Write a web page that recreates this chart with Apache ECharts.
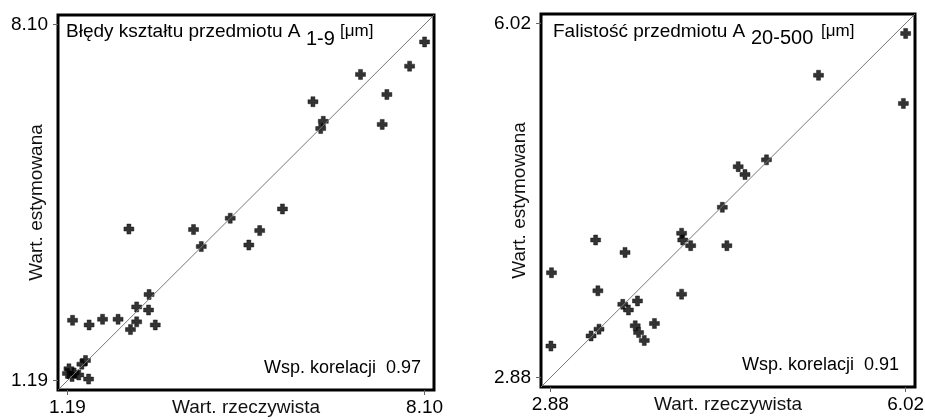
<!DOCTYPE html>
<html>
<head>
<meta charset="utf-8">
<script src="https://cdn.jsdelivr.net/npm/echarts@6/dist/echarts.min.js"></script>
<style>
  html, body { margin: 0; padding: 0; background: #fff; }
  #chart { width: 925px; height: 420px; }
</style>
</head>
<body>
<div id="chart"></div>
<script>
// Błędy kształtu A 1-9 (lewy wykres)
const shapeActual = [8.10, 7.81, 6.86, 7.37, 5.94, 6.14, 6.09, 7.28, 5.35, 4.34, 3.63, 3.78, 4.91, 4.70, 2.38,
  2.77, 2.53, 2.76, 2.53, 2.41, 2.89, 2.17, 1.87, 1.61, 1.29, 1.54, 1.47, 1.41, 1.60, 1.22, 1.19, 1.28, 1.32]
const shapeEstimated = [7.76, 7.29, 7.13, 6.74, 6.60, 6.22, 6.08, 6.16, 4.52, 4.34, 4.12, 3.79, 4.10, 3.82, 4.13,
  2.86, 2.62, 2.56, 2.33, 2.18, 2.27, 2.38, 2.38, 2.27, 2.36, 1.58, 1.51, 1.30, 1.22, 1.42, 1.33, 1.27, 1.34]
const shapeTicks = [1.19, 8.10]
const shapeCorr = 0.97

// Falistość A 20-500 (prawy wykres)
const waveActual = [6.02, 5.25, 6.00, 4.79, 4.54, 4.60, 4.40, 4.04, 4.05, 4.12, 4.44, 3.28, 3.54,
  2.89, 3.30, 4.04, 3.65, 3.52, 3.57, 3.80, 3.63, 3.66, 3.71, 3.31, 3.24, 2.885]
const waveEstimated = [5.93, 5.56, 5.31, 4.81, 4.75, 4.68, 4.39, 4.16, 4.10, 4.05, 4.05, 4.10, 3.99,
  3.81, 3.65, 3.62, 3.56, 3.53, 3.48, 3.36, 3.34, 3.28, 3.21, 3.31, 3.25, 3.16]
const waveTicks = [2.88, 6.02]
const waveCorr = 0.91

const FONT = 'Liberation Sans, Arial, sans-serif'
const plus = 'path://M3,0H7V3H10V7H7V10H3V7H0V3H3Z'

// zakres osi z marginesem 2.5% jak w oryginale
const range = (ticks) => {
  const full = (ticks[1] - ticks[0]) / 0.95
  const pad = full * 0.025
  return [ticks[0] - pad, ticks[1] + pad]
}
const shapeRange = range(shapeTicks)
const waveRange = range(waveTicks)

const pairs = (xs, ys) => xs.map((x, i) => [x, ys[i]])

const axis = (r, ticks, idx, name, isY) => ({
  type: 'value',
  gridIndex: idx,
  min: r[0],
  max: r[1],
  name: name,
  nameLocation: 'middle',
  nameMoveOverlap: false,
  nameGap: isY ? 12 : 8,
  nameTextStyle: { fontFamily: FONT, fontSize: 19, color: '#111', verticalAlign: isY ? 'bottom' : 'top' },
  axisLine: { show: false },
  splitLine: { show: false },
  axisTick: { show: true, customValues: ticks, length: 5, lineStyle: { color: '#666', width: 1 } },
  axisLabel: {
    customValues: ticks,
    margin: isY ? 10 : 8,
    hideOverlap: false,
    fontFamily: FONT,
    fontSize: 19,
    color: '#000',
    formatter: (v) => v.toFixed(2)
  }
})

const txt = (x, y, text, size, align) => ({
  type: 'text',
  x: x,
  y: y,
  style: { text: text, fontFamily: FONT, fontSize: size, fill: '#000', align: align || 'left', verticalAlign: 'middle' }
})

const chart = echarts.init(document.getElementById('chart'))
chart.setOption({
  animation: false,
  backgroundColor: '#fff',
  grid: [
    { left: 58, top: 15, width: 376, height: 375, outerBoundsMode: 'none', show: true, borderColor: '#000', borderWidth: 3, backgroundColor: 'transparent' },
    { left: 541, top: 14, width: 374, height: 373, outerBoundsMode: 'none', show: true, borderColor: '#000', borderWidth: 3, backgroundColor: 'transparent' }
  ],
  xAxis: [
    axis(shapeRange, shapeTicks, 0, 'Wart. rzeczywista', false),
    axis(waveRange, waveTicks, 1, 'Wart. rzeczywista', false)
  ],
  yAxis: [
    axis(shapeRange, shapeTicks, 0, 'Wart. estymowana', true),
    axis(waveRange, waveTicks, 1, 'Wart. estymowana', true)
  ],
  series: [
    {
      type: 'line', xAxisIndex: 0, yAxisIndex: 0, symbol: 'none', silent: true,
      lineStyle: { color: '#777', width: 1 },
      data: [[shapeRange[0], shapeRange[0]], [shapeRange[1], shapeRange[1]]]
    },
    {
      type: 'scatter', xAxisIndex: 0, yAxisIndex: 0, symbol: plus, symbolSize: 10,
      itemStyle: { color: '#000', borderColor: '#000', borderWidth: 0.5 },
      data: pairs(shapeActual, shapeEstimated)
    },
    {
      type: 'line', xAxisIndex: 1, yAxisIndex: 1, symbol: 'none', silent: true,
      lineStyle: { color: '#777', width: 1 },
      data: [[waveRange[0], waveRange[0]], [waveRange[1], waveRange[1]]]
    },
    {
      type: 'scatter', xAxisIndex: 1, yAxisIndex: 1, symbol: plus, symbolSize: 10,
      itemStyle: { color: '#000', borderColor: '#000', borderWidth: 0.5 },
      data: pairs(waveActual, waveEstimated)
    }
  ],
  graphic: [
    // tytuły z indeksem dolnym
    txt(66, 32, 'Błędy kształtu przedmiotu A', 19),
    txt(306, 39, '1-9', 20),
    txt(340, 31, '[μm]', 17),
    txt(553, 32, 'Falistość przedmiotu A', 19),
    txt(751, 38, '20-500', 20),
    txt(821, 31, '[μm]', 17),
    // współczynniki korelacji
    txt(421, 368, 'Wsp. korelacji  ' + shapeCorr.toFixed(2), 18, 'right'),
    txt(899, 365, 'Wsp. korelacji  ' + waveCorr.toFixed(2), 18, 'right')
  ]
})
</script>
</body>
</html>
